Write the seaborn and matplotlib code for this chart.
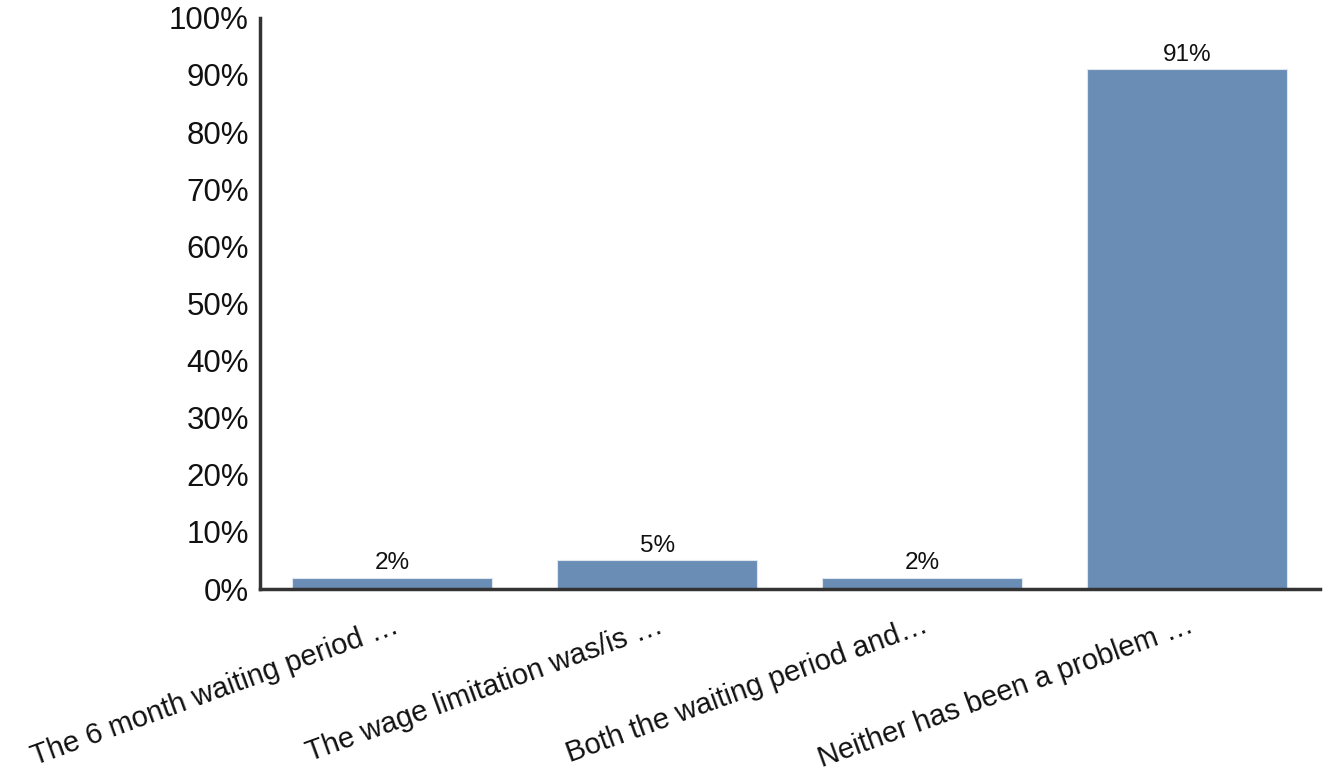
import matplotlib
matplotlib.use("Agg")
import matplotlib.pyplot as plt
import seaborn as sns
import pandas as pd

categories = [
    "The 6 month waiting period \u2026",
    "The wage limitation was/is \u2026",
    "Both the waiting period and\u2026",
    "Neither has been a problem \u2026",
]
values = [2, 5, 2, 91]
y_ticks = [0, 10, 20, 30, 40, 50, 60, 70, 80, 90, 100]

sns.set_theme(style="white")
plt.rcParams["font.family"] = ["Liberation Sans", "DejaVu Sans"]

df = pd.DataFrame({"answer": categories, "pct": values})

fig = plt.figure(figsize=(13.33, 7.72), dpi=100)
ax = fig.add_axes([0.195, 0.237, 0.795, 0.740])

sns.barplot(data=df, x="answer", y="pct", color="#6A8DB6", saturation=1,
            width=0.755, edgecolor="#dfe6ee", linewidth=0.8, ax=ax)

for i, v in enumerate(values):
    ax.text(i, v + 0.6, f"{v}%", ha="center", va="bottom", fontsize=17.5, color="#111111")

ax.set_ylim(0, 100)
ax.set_xlim(-0.5, 3.5)
ax.set_yticks(y_ticks)
ax.set_yticklabels([f"{t}%" for t in y_ticks], fontsize=22.5, color="#111111")
ax.set_xticks(range(len(categories)))
ax.set_xticklabels(categories, rotation=20, ha="right", rotation_mode="anchor",
                   fontsize=21, color="#111111")
ax.set_xlabel("")
ax.set_ylabel("")

for side in ("top", "right"):
    ax.spines[side].set_visible(False)
for side in ("left", "bottom"):
    ax.spines[side].set_color("#333333")
    ax.spines[side].set_linewidth(2.5)

ax.tick_params(axis="both", which="both", direction="out", length=4, width=1,
               color="#888888", pad=4)
ax.tick_params(axis="x", pad=12)

fig.savefig("out.png", dpi=100, facecolor="white")
